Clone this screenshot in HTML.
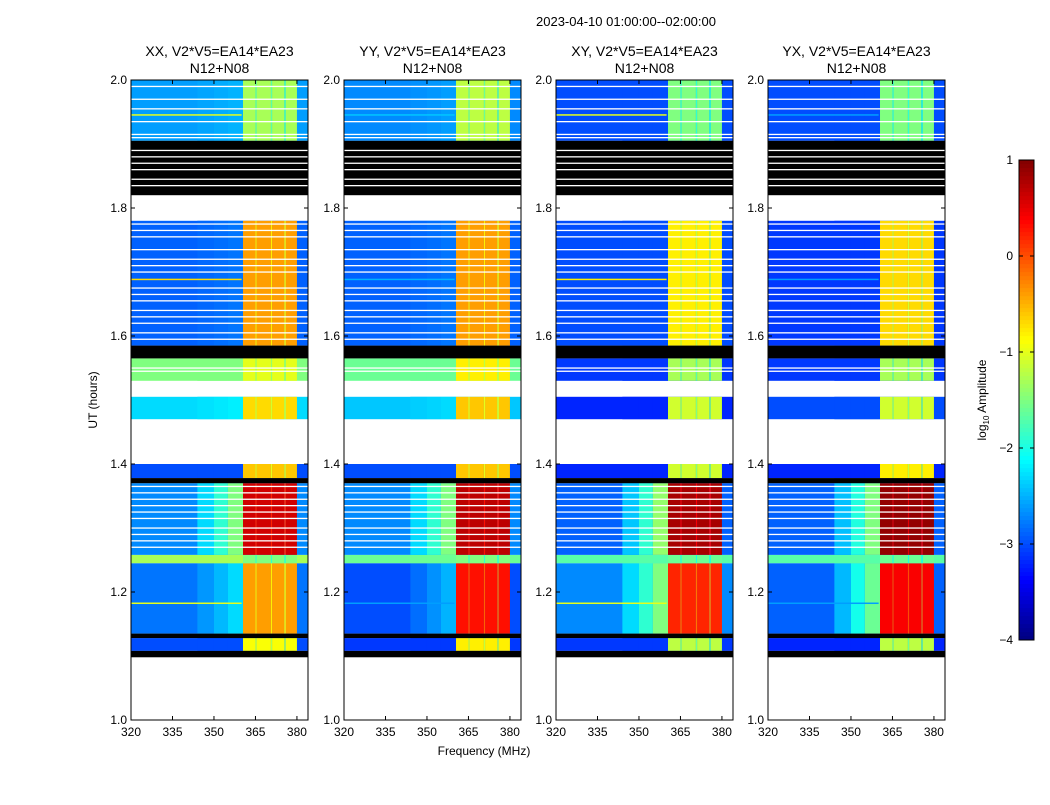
<!DOCTYPE html>
<html><head><meta charset="utf-8"><style>
body{margin:0;background:#fff;width:1050px;height:800px;overflow:hidden;font-family:"Liberation Sans",sans-serif}
</style></head><body>
<svg id="fig" width="1050" height="800" xmlns="http://www.w3.org/2000/svg" font-family="Liberation Sans, sans-serif">
<text x="626" y="26" font-size="13" text-anchor="middle">2023-04-10  01:00:00--02:00:00</text>
<text transform="translate(97,400) rotate(-90)" font-size="12" text-anchor="middle">UT (hours)</text>
<text x="484" y="755" font-size="12" text-anchor="middle">Frequency (MHz)</text>
<g id="panels"></g>
<g id="cbar"></g>
<text transform="translate(986,400) rotate(-90)" font-size="12" text-anchor="middle">log<tspan font-size="8" dy="3">10</tspan><tspan dy="-3"> Amplitude</tspan></text>
</svg>
<script>
const panelTitles=["XX, V2*V5=EA14*EA23","YY, V2*V5=EA14*EA23","XY, V2*V5=EA14*EA23","YX, V2*V5=EA14*EA23"];
const segStart=[1.108,1.135,1.245,1.258,1.378,1.47,1.53,1.585,1.905];
const segEnd=[1.128,1.245,1.258,1.37,1.40,1.505,1.565,1.78,2.0];
const baseVals=[[-3.0,-2.8,-1.3,-2.7,-3.0,-2.3,-1.5,-2.9,-2.6],[-3.1,-3.0,-1.6,-2.7,-3.0,-2.4,-1.6,-2.9,-2.7],[-3.1,-2.7,-1.7,-2.9,-3.2,-3.2,-3.1,-3.0,-3.0],[-3.2,-2.9,-1.7,-2.9,-3.2,-3.0,-3.1,-3.1,-3.0]];
const rampVals=[[-3.0,-2.3,-1.3,-1.5,-3.0,-2.2,-1.5,-2.8,-2.5],[-3.1,-2.5,-1.6,-1.5,-3.0,-2.3,-1.6,-2.8,-2.6],[-3.1,-1.5,-1.7,-1.4,-3.2,-3.2,-3.1,-3.0,-3.0],[-3.2,-1.6,-1.7,-1.5,-3.2,-3.0,-3.1,-3.1,-3.0]];
const rfiVals=[[-0.9,-0.4,-1.5,0.6,-0.6,-0.7,-1.0,-0.4,-1.3],[-0.8,0.3,-1.5,0.7,-0.6,-0.6,-0.8,-0.4,-1.2],[-1.2,0.2,-1.6,0.8,-1.1,-1.1,-1.3,-0.8,-1.5],[-1.2,0.4,-1.6,0.9,-0.8,-1.1,-1.3,-0.7,-1.5]];
const rfiStart=[360.5,365.4,371.0,376.0];
const rfiEnd=[365.0,370.6,375.4,380.0];
const blackStart=[1.098,1.128,1.37,1.565,1.82];
const blackEnd=[1.108,1.135,1.378,1.585,1.905];
const whiteLines=[1.27,1.28,1.29,1.30,1.315,1.325,1.335,1.345,1.355,1.365,1.545,1.55,1.595,1.605,1.62,1.63,1.64,1.655,1.665,1.675,1.70,1.71,1.72,1.735,1.755,1.765,1.775,1.835,1.845,1.86,1.87,1.88,1.89,1.91,1.915,1.935,1.955,1.97,1.99];
const hlineTimes=[1.182,1.688,1.945];
const hlineVals=[[-1.0,-0.7,-1.0],[-2.6,-2.5,-2.4],[-1.0,-0.8,-1.0],[-2.6,-2.6,-2.6]];
const xTicks=[320,335,350,365,380];
const yTicks=[1.0,1.2,1.4,1.6,1.8,2.0];
const cbTicks=[1,0,-1,-2,-3,-4];
const cbLabels=["1","0","\u22121","\u22122","\u22123","\u22124"];

const NS="http://www.w3.org/2000/svg";
const panelX=[131,344,556,768], PW=177, PT=80, PB=720;
const fMin=320,fMax=384,tMin=1,tMax=2;
function jet(v){let t=Math.max(0,Math.min(1,(v+4)/5));
 const c=x=>Math.round(255*Math.max(0,Math.min(1,1.5-Math.abs(4*t-x))));
 return `rgb(${c(3)},${c(2)},${c(1)})`;}
function mk(tag,attrs,parent){const e=document.createElementNS(NS,tag);for(const k in attrs)e.setAttribute(k,attrs[k]);parent.appendChild(e);return e;}
const panels=document.getElementById('panels');
panelX.forEach((px,p)=>{
 const xs=f=>px+(f-fMin)/(fMax-fMin)*PW;
 const ys=t=>PB-(t-tMin)/(tMax-tMin)*(PB-PT);
 const g=mk('g',{},panels);
 
 
 segStart.forEach((s,i)=>{
  const y0=ys(segEnd[i]),y1=ys(s);
  const b=baseVals[p][i],rv=rampVals[p][i];
  const r=mk('rect',{x:xs(fMin),y:y0,width:xs(fMax)-xs(fMin),height:y1-y0,fill:jet(b)},g);
  
  
  [[344,350,(2*b+rv)/3],[350,355,(b+2*rv)/3],[355,360.5,rv]].forEach(([a,c,v])=>{
   const rr=mk('rect',{x:xs(a),y:y0,width:xs(c)-xs(a),height:y1-y0,fill:jet(v)},g);
   
   
  });
  rfiStart.forEach((f,k)=>{
   const c=mk('rect',{x:xs(f),y:y0,width:xs(rfiEnd[k])-xs(f),height:y1-y0,fill:jet(rfiVals[p][i])},g);
   
   
  });
  const gapV=rfiVals[p][i]-0.4;
  [[365,365.4],[370.6,371],[375.4,376]].forEach(([a,c])=>{
   mk('rect',{x:xs(a),y:y0,width:xs(c)-xs(a),height:y1-y0,fill:jet(gapV)},g);
  });
 });
 hlineTimes.forEach((t,i)=>{
  const l=mk('rect',{x:xs(fMin),y:ys(t)-1,width:xs(360)-xs(fMin),height:1.5,fill:jet(hlineVals[p][i])},g);
  
  
 });
 blackStart.forEach((s,i)=>{
  const b=mk('rect',{x:px,y:ys(blackEnd[i]),width:PW,height:ys(s)-ys(blackEnd[i]),fill:'#000'},g);
  
  
 });
 whiteLines.forEach(t=>{mk('rect',{x:px,y:ys(t)-0.6,width:PW,height:1.3,fill:'#fff'},g);});
 const fr=mk('rect',{x:px,y:PT,width:PW,height:PB-PT,fill:'none',stroke:'#000','stroke-width':1},g);
 
 
 xTicks.forEach(f=>{
  mk('line',{x1:xs(f),x2:xs(f),y1:PB,y2:PB-4,stroke:'#000'},g);
  mk('line',{x1:xs(f),x2:xs(f),y1:PT,y2:PT+4,stroke:'#000'},g);
  const t=mk('text',{x:xs(f),y:PB+16,'font-size':12,'text-anchor':'middle'},g);t.textContent=f;
  
  
 });
 yTicks.forEach(v=>{
  mk('line',{x1:px,x2:px+4,y1:ys(v),y2:ys(v),stroke:'#000'},g);
  mk('line',{x1:px+PW,x2:px+PW-4,y1:ys(v),y2:ys(v),stroke:'#000'},g);
  const t=mk('text',{x:px-4,y:ys(v)+4,'font-size':12,'text-anchor':'end'},g);t.textContent=v.toFixed(1);
  
  
 });
 const t1=mk('text',{x:px+PW/2,y:56,'font-size':14,'text-anchor':'middle'},g);t1.textContent=panelTitles[p];
 
 
 const t2=mk('text',{x:px+PW/2,y:73,'font-size':14,'text-anchor':'middle'},g);t2.textContent="N12+N08";
 
 
});
const cb=document.getElementById('cbar');
const cbY=v=>640-(v+4)/5*480;
for(let i=0;i<120;i++){const v=-4+5*(i+0.5)/120;mk('rect',{x:1019,y:cbY(v+5/240)-0.1,width:15,height:4.2,fill:jet(v)},cb);}
mk('rect',{x:1019,y:160,width:15,height:480,fill:'none',stroke:'#000'},cb);
cbTicks.forEach((v,i)=>{
 mk('line',{x1:1019,x2:1023,y1:cbY(v),y2:cbY(v),stroke:'#000'},cb);
 mk('line',{x1:1034,x2:1030,y1:cbY(v),y2:cbY(v),stroke:'#000'},cb);
 const t=mk('text',{x:1013,y:cbY(v)+4,'font-size':12,'text-anchor':'end'},cb);t.textContent=cbLabels[i];
 
 
});
</script>
</body></html>
